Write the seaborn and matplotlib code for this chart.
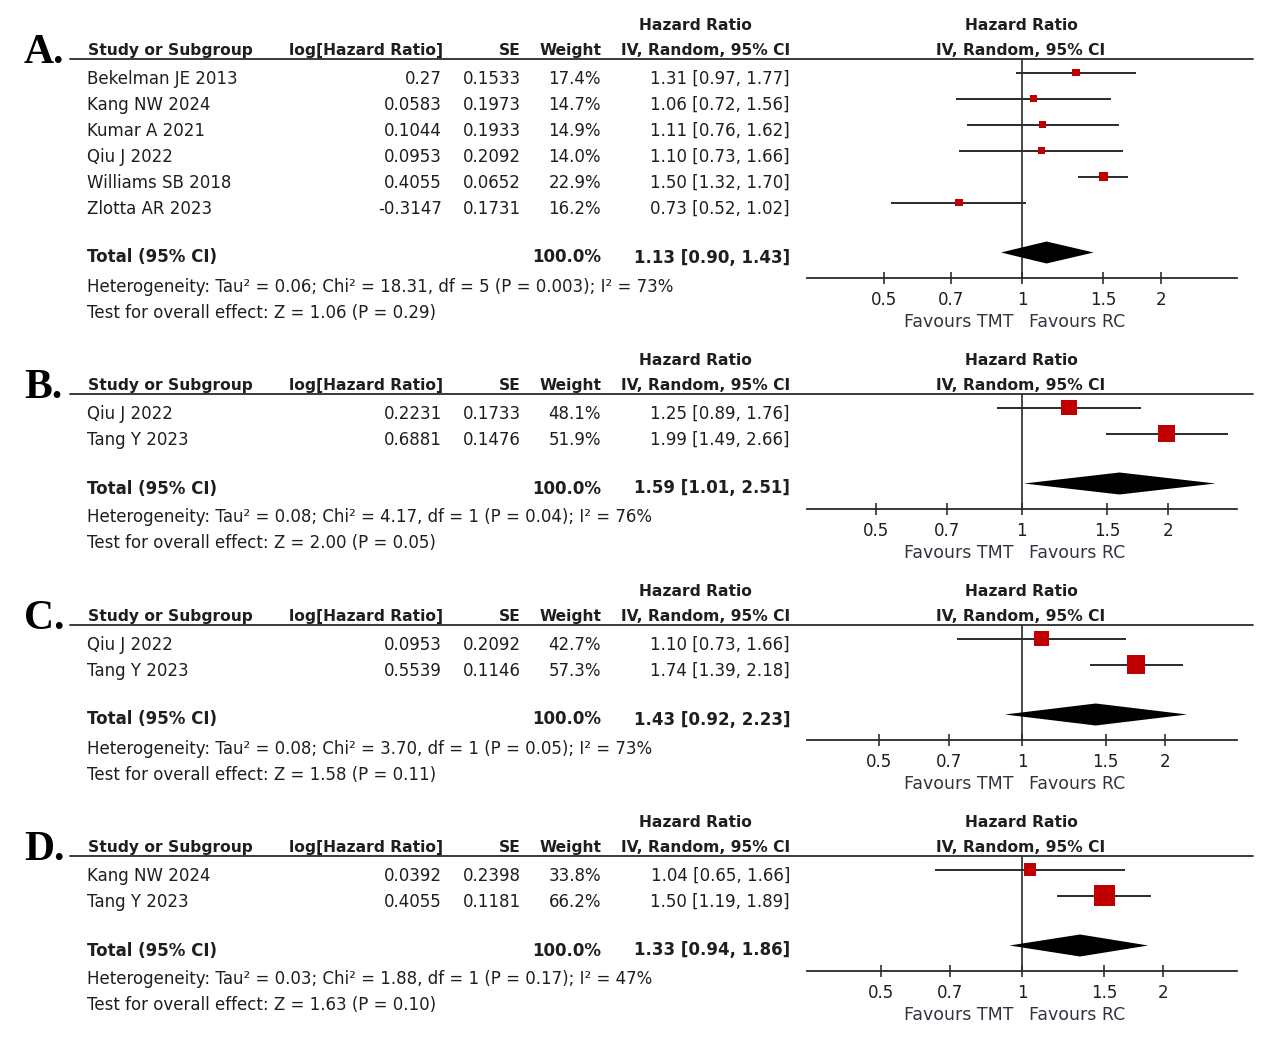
import matplotlib
matplotlib.use('Agg')
import matplotlib.pyplot as plt
from matplotlib.lines import Line2D
import pandas as pd
import seaborn as sns

# ---- data ----
studies_a = ['Bekelman JE 2013', 'Kang NW 2024', 'Kumar A 2021', 'Qiu J 2022',
             'Williams SB 2018', 'Zlotta AR 2023']
loghr_a = [0.27, 0.0583, 0.1044, 0.0953, 0.4055, -0.3147]
se_a = [0.1533, 0.1973, 0.1933, 0.2092, 0.0652, 0.1731]
weight_a = [17.4, 14.7, 14.9, 14.0, 22.9, 16.2]
hr_a = [1.31, 1.06, 1.11, 1.10, 1.50, 0.73]
lo_a = [0.97, 0.72, 0.76, 0.73, 1.32, 0.52]
hi_a = [1.77, 1.56, 1.62, 1.66, 1.70, 1.02]
total_a = (1.13, 0.90, 1.43)
het_a = 'Heterogeneity: Tau\u00b2 = 0.06; Chi\u00b2 = 18.31, df = 5 (P = 0.003); I\u00b2 = 73%'
test_a = 'Test for overall effect: Z = 1.06 (P = 0.29)'

studies_b = ['Qiu J 2022', 'Tang Y 2023']
loghr_b = [0.2231, 0.6881]
se_b = [0.1733, 0.1476]
weight_b = [48.1, 51.9]
hr_b = [1.25, 1.99]
lo_b = [0.89, 1.49]
hi_b = [1.76, 2.66]
total_b = (1.59, 1.01, 2.51)
het_b = 'Heterogeneity: Tau\u00b2 = 0.08; Chi\u00b2 = 4.17, df = 1 (P = 0.04); I\u00b2 = 76%'
test_b = 'Test for overall effect: Z = 2.00 (P = 0.05)'

studies_c = ['Qiu J 2022', 'Tang Y 2023']
loghr_c = [0.0953, 0.5539]
se_c = [0.2092, 0.1146]
weight_c = [42.7, 57.3]
hr_c = [1.10, 1.74]
lo_c = [0.73, 1.39]
hi_c = [1.66, 2.18]
total_c = (1.43, 0.92, 2.23)
het_c = 'Heterogeneity: Tau\u00b2 = 0.08; Chi\u00b2 = 3.70, df = 1 (P = 0.05); I\u00b2 = 73%'
test_c = 'Test for overall effect: Z = 1.58 (P = 0.11)'

studies_d = ['Kang NW 2024', 'Tang Y 2023']
loghr_d = [0.0392, 0.4055]
se_d = [0.2398, 0.1181]
weight_d = [33.8, 66.2]
hr_d = [1.04, 1.50]
lo_d = [0.65, 1.19]
hi_d = [1.66, 1.89]
total_d = (1.33, 0.94, 1.86)
het_d = 'Heterogeneity: Tau\u00b2 = 0.03; Chi\u00b2 = 1.88, df = 1 (P = 0.17); I\u00b2 = 47%'
test_d = 'Test for overall effect: Z = 1.63 (P = 0.10)'

total_weight = 100.0
tick_vals = [0.5, 0.7, 1, 1.5, 2]
tick_labels = ['0.5', '0.7', '1', '1.5', '2']

panels = [
    dict(letter='A.', studies=studies_a, loghr=loghr_a, se=se_a, weight=weight_a, hr=hr_a,
         lo=lo_a, hi=hi_a, total=total_a, het=het_a, test=test_a, xlim=(0.341, 2.93)),
    dict(letter='B.', studies=studies_b, loghr=loghr_b, se=se_b, weight=weight_b, hr=hr_b,
         lo=lo_b, hi=hi_b, total=total_b, het=het_b, test=test_b, xlim=(0.36, 2.78)),
    dict(letter='C.', studies=studies_c, loghr=loghr_c, se=se_c, weight=weight_c, hr=hr_c,
         lo=lo_c, hi=hi_c, total=total_c, het=het_c, test=test_c, xlim=(0.352, 2.84)),
    dict(letter='D.', studies=studies_d, loghr=loghr_d, se=se_d, weight=weight_d, hr=hr_d,
         lo=lo_d, hi=hi_d, total=total_d, het=het_d, test=test_d, xlim=(0.347, 2.88)),
]

# ---- style ----
sns.set_theme(style='white')
plt.rcParams['font.family'] = ['DejaVu Sans']

TXT = '#1e1e1e'
LINE = '#2a2a2a'
RED = '#c00000'
W, H = 1268, 1042
FS = 12      # body text
HFS = 11.2   # bold headers

fig = plt.figure(figsize=(W / 100, H / 100), dpi=100)


def fx(x):
    return x / W


def fy(y):
    return 1 - y / H


def put(x, y, s, ha='left', bold=False, size=FS, **kw):
    kw.setdefault('color', TXT)
    fig.text(fx(x), fy(y), s, ha=ha, va='baseline', fontsize=size,
             fontweight='bold' if bold else 'normal', **kw)


top = 59
for p in panels:
    n = len(p['studies'])
    row_base = [top + 25 + 26 * i for i in range(n)]
    total_base = row_base[-1] + 48.5
    axis_y = total_base + 15.5

    # headers
    put(24, top + 4, p['letter'], size=30, bold=True, family='Liberation Serif', color='black')
    put(695, top - 29, 'Hazard Ratio', ha='center', bold=True, size=HFS)
    put(1021, top - 29, 'Hazard Ratio', ha='center', bold=True, size=HFS)
    put(88, top - 4, 'Study or Subgroup', bold=True, size=HFS)
    put(443, top - 4, 'log[Hazard Ratio]', ha='right', bold=True, size=HFS)
    put(521, top - 4, 'SE', ha='right', bold=True, size=HFS)
    put(602, top - 4, 'Weight', ha='right', bold=True, size=HFS)
    put(790, top - 4, 'IV, Random, 95% CI', ha='right', bold=True, size=HFS)
    put(1021, top - 4, 'IV, Random, 95% CI', ha='center', bold=True, size=HFS)
    fig.add_artist(Line2D([fx(70), fx(1253)], [fy(top), fy(top)], color=LINE, lw=1.3))

    # table rows
    for i, yb in enumerate(row_base):
        put(87, yb, p['studies'][i])
        put(442, yb, str(p['loghr'][i]), ha='right')
        put(521, yb, f"{p['se'][i]:.4f}", ha='right')
        put(601, yb, f"{p['weight'][i]:.1f}%", ha='right')
        put(790, yb, f"{p['hr'][i]:.2f} [{p['lo'][i]:.2f}, {p['hi'][i]:.2f}]", ha='right')
    est, tlo, thi = p['total']
    put(87, total_base, 'Total (95% CI)', bold=True)
    put(601, total_base, f"{total_weight:.1f}%", ha='right', bold=True)
    put(790, total_base, f"{est:.2f} [{tlo:.2f}, {thi:.2f}]", ha='right', bold=True)
    put(87, total_base + 29, p['het'])
    put(87, total_base + 55, p['test'])

    # forest part
    ax = fig.add_axes([fx(807), fy(axis_y), fx(1237) - fx(807), (axis_y - top) / H])
    ax.patch.set_alpha(0)
    ax.set_xscale('log')
    ax.set_xlim(p['xlim'])
    ax.set_ylim(axis_y, top)

    mark_y = [yb - 11.5 for yb in row_base]
    ax.axvline(1, color=LINE, lw=1.2, zorder=1)
    ax.hlines(mark_y, p['lo'], p['hi'], color=LINE, lw=1.4, zorder=2)
    df = pd.DataFrame({'hr': p['hr'], 'y': mark_y, 'w': p['weight']})
    sizes = ((3 + 0.27 * df['w']) * 0.72) ** 2
    sns.scatterplot(data=df, x='hr', y='y', marker='s', s=sizes, color=RED,
                    edgecolor='none', linewidth=0, ax=ax, legend=False, zorder=3)
    dy = total_base - 10
    ax.fill([tlo, est, thi, est], [dy, dy - 11, dy, dy + 11], color='black', lw=0, zorder=3)

    ax.set_xticks(tick_vals)
    ax.set_xticklabels(tick_labels)
    ax.minorticks_off()
    ax.set_yticks([])
    ax.set_xlabel('')
    ax.set_ylabel('')
    for s in ['left', 'right', 'top']:
        ax.spines[s].set_visible(False)
    ax.spines['bottom'].set_color(LINE)
    ax.spines['bottom'].set_linewidth(1.3)
    ax.tick_params(axis='x', direction='inout', length=8.5, width=1.1, pad=5.3,
                   labelsize=FS, colors=TXT, bottom=True)

    put(1013, axis_y + 49, 'Favours TMT', ha='right', size=12.5, color='#333340')
    put(1029, axis_y + 49, 'Favours RC', size=12.5, color='#333340')

    top = axis_y + 116

fig.savefig('out.png', dpi=100)
